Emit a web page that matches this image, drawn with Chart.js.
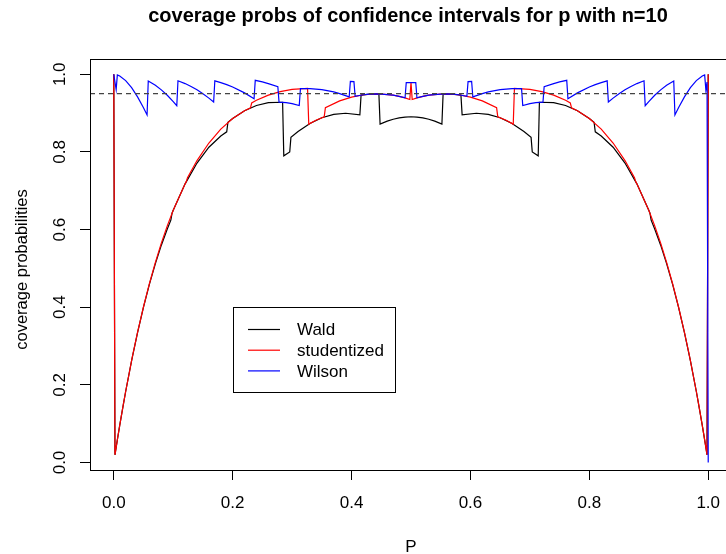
<!DOCTYPE html>
<html>
<head>
<meta charset="utf-8">
<script src="https://cdn.jsdelivr.net/npm/chart.js@4.4.1/dist/chart.umd.min.js"></script>
<style>
  html, body { margin: 0; padding: 0; overflow: hidden; background: #fff; }
  #wrap { width: 740px; height: 554px; }
</style>
</head>
<body>
<div id="wrap"><canvas id="cov" width="740" height="554"></canvas></div>
<script>
// coverage of nominal 95% intervals for a binomial proportion, n = 10

const waldP = [0, 0.002, 0.006, 0.01, 0.016, 0.02, 0.03, 0.04, 0.05, 0.06, 0.07, 0.08, 0.09, 0.096, 0.098, 0.10,
  0.12, 0.14, 0.16, 0.18, 0.19, 0.192, 0.20, 0.22, 0.24, 0.26, 0.284, 0.286, 0.296, 0.298, 0.31, 0.33, 0.35, 0.37,
  0.39, 0.414, 0.416, 0.43, 0.446, 0.448, 0.46, 0.47, 0.48, 0.49, 0.50,
  0.51, 0.52, 0.53, 0.54, 0.552, 0.554, 0.57, 0.584, 0.586, 0.61, 0.63, 0.65, 0.67, 0.69, 0.702, 0.704, 0.714,
  0.716, 0.74, 0.76, 0.78, 0.80, 0.808, 0.81, 0.82, 0.84, 0.86, 0.88, 0.90, 0.902, 0.904, 0.91, 0.92, 0.93, 0.94,
  0.95, 0.96, 0.97, 0.98, 0.984, 0.99, 0.994, 0.998, 1];
const waldCov = [1, 0.0198, 0.0583, 0.0955, 0.1486, 0.1829, 0.2624, 0.3348, 0.4002, 0.4594, 0.5124, 0.5598, 0.6017,
  0.6244, 0.6420, 0.6497, 0.7178, 0.7714, 0.8121, 0.8412, 0.8518, 0.8762, 0.8863, 0.9063, 0.9196, 0.9269, 0.9280,
  0.7900, 0.7999, 0.8375, 0.8528, 0.8735, 0.8880, 0.8967, 0.8996, 0.8955, 0.9464, 0.9489, 0.9495, 0.8716, 0.8794,
  0.8843, 0.8878, 0.8897, 0.8906,
  0.8897, 0.8878, 0.8843, 0.8794, 0.8716, 0.9495, 0.9489, 0.9464, 0.8955, 0.8996, 0.8967, 0.8880, 0.8735, 0.8528,
  0.8375, 0.7999, 0.7900, 0.9280, 0.9269, 0.9196, 0.9063, 0.8863, 0.8762, 0.8518, 0.8412, 0.8121, 0.7714, 0.7178,
  0.6497, 0.6420, 0.6244, 0.6017, 0.5598, 0.5124, 0.4594, 0.4002, 0.3348, 0.2624, 0.1829, 0.1486, 0.0955, 0.0583,
  0.0198, 1];

const studP = [0, 0.002, 0.006, 0.01, 0.016, 0.02, 0.03, 0.032, 0.04, 0.05, 0.06, 0.07, 0.08, 0.09, 0.10, 0.12,
  0.122, 0.124, 0.14, 0.16, 0.18, 0.20, 0.22, 0.23, 0.232, 0.24, 0.26, 0.28, 0.30, 0.326, 0.328, 0.34, 0.354, 0.356,
  0.38, 0.40, 0.42, 0.446, 0.47, 0.48, 0.49, 0.498, 0.50, 0.502, 0.51, 0.52, 0.53, 0.554, 0.58, 0.60, 0.62, 0.644,
  0.646, 0.66, 0.672, 0.674, 0.70, 0.72, 0.74, 0.76, 0.768, 0.77, 0.78, 0.80, 0.82, 0.84, 0.86, 0.876, 0.878, 0.88,
  0.90, 0.91, 0.92, 0.93, 0.94, 0.95, 0.96, 0.968, 0.97, 0.98, 0.984, 0.99, 0.994, 0.998, 1];
const studCov = [1, 0.0198, 0.0583, 0.0956, 0.1490, 0.1829, 0.2625, 0.2776, 0.3351, 0.4012, 0.4612, 0.5157, 0.5650,
  0.6096, 0.6497, 0.7178, 0.7237, 0.7334, 0.7778, 0.8230, 0.8589, 0.8863, 0.9063, 0.9137, 0.9264, 0.9330, 0.9463,
  0.9555, 0.9612, 0.9634, 0.8716, 0.8815, 0.8902, 0.9142, 0.9316, 0.9413, 0.9473, 0.9495, 0.9462, 0.9432, 0.9394,
  0.9350, 0.9785, 0.9350, 0.9394, 0.9432, 0.9462, 0.9495, 0.9473, 0.9413, 0.9316, 0.9142, 0.8902, 0.8815, 0.8716,
  0.9634, 0.9612, 0.9555, 0.9463, 0.9330, 0.9264, 0.9137, 0.9063, 0.8863, 0.8589, 0.8230, 0.7778, 0.7334, 0.7237,
  0.7178, 0.6497, 0.6096, 0.5650, 0.5157, 0.4612, 0.4012, 0.3351, 0.2776, 0.2625, 0.1829, 0.1490, 0.0956, 0.0583,
  0.0198, 1];

const wilsonP = [0, 0.002, 0.004, 0.006, 0.01, 0.02, 0.03, 0.04, 0.05, 0.056, 0.058, 0.07, 0.08, 0.09, 0.10, 0.106,
  0.108, 0.12, 0.13, 0.14, 0.15, 0.16, 0.168, 0.17, 0.18, 0.19, 0.20, 0.22, 0.236, 0.238, 0.25, 0.26, 0.276, 0.278,
  0.29, 0.30, 0.312, 0.314, 0.32, 0.33, 0.35, 0.37, 0.38, 0.396, 0.398, 0.404, 0.406, 0.42, 0.43, 0.446, 0.47, 0.48,
  0.49, 0.492, 0.50, 0.508,
  0.51, 0.52, 0.53, 0.554, 0.57, 0.58, 0.594, 0.596, 0.602, 0.604, 0.62, 0.63, 0.65, 0.67, 0.68, 0.686, 0.688, 0.70,
  0.71, 0.722, 0.724, 0.74, 0.75, 0.762, 0.764, 0.78, 0.80, 0.81, 0.82, 0.83, 0.832, 0.84, 0.85, 0.86, 0.87, 0.88,
  0.892, 0.894, 0.90, 0.91, 0.92, 0.93, 0.942, 0.944, 0.95, 0.96, 0.97, 0.98, 0.99, 0.994, 0.996, 0.998, 1];
const wilsonCov = [1, 0.9802, 0.9607, 0.9985, 0.9957, 0.9838, 0.9655, 0.9418, 0.9139, 0.8954, 0.9828, 0.9717,
  0.9599, 0.9459, 0.9298, 0.9191, 0.9833, 0.9761, 0.9687, 0.9600, 0.9500, 0.9386, 0.9285, 0.9832, 0.9787, 0.9734,
  0.9672, 0.9521, 0.9372, 0.9844, 0.9803, 0.9761, 0.9681, 0.9284, 0.9271, 0.9244, 0.9195, 0.9630, 0.9634, 0.9632,
  0.9605, 0.9545, 0.9503, 0.9417, 0.9818, 0.9812, 0.9432, 0.9473, 0.9489, 0.9495, 0.9462, 0.9432, 0.9394, 0.9784,
  0.9785, 0.9784,
  0.9394, 0.9432, 0.9462, 0.9495, 0.9489, 0.9473, 0.9432, 0.9812, 0.9818, 0.9417, 0.9503, 0.9545, 0.9605, 0.9632,
  0.9634, 0.9630, 0.9195, 0.9244, 0.9271, 0.9284, 0.9681, 0.9761, 0.9803, 0.9844, 0.9372, 0.9521, 0.9672, 0.9734,
  0.9787, 0.9832, 0.9285, 0.9386, 0.9500, 0.9600, 0.9687, 0.9761, 0.9833, 0.9191, 0.9298, 0.9459, 0.9599, 0.9717,
  0.9828, 0.8954, 0.9139, 0.9418, 0.9655, 0.9838, 0.9957, 0.9985, 0.9607, 0.9802, 0];

const nominalLevel = 0.95;
const xTicks = [0, 0.2, 0.4, 0.6, 0.8, 1.0];
const yTicks = [0, 0.2, 0.4, 0.6, 0.8, 1.0];
const legendLabels = ["Wald", "studentized", "Wilson"];
const seriesColors = ["#000000", "#ff0000", "#0000ff"];

const X_MIN = -0.04, X_MAX = 1.04;
const Y_MIN = -0.0193, Y_MAX = 1.0394;
const FONT = "Liberation Sans, Arial, Helvetica, sans-serif";

function toPoints(xs, ys) {
  return xs.map((x, i) => ({ x: x, y: ys[i] }));
}

/**
 * Box, titles, tick labels and the legend, drawn the way base R graphics lays them out.
 */
const frameLayer = {
  id: "frameLayer",
  afterDraw(chart) {
    const ctx = chart.ctx;
    const area = chart.chartArea;
    const xs = chart.scales.x;
    const ys = chart.scales.y;

    ctx.save();
    // plot box
    ctx.strokeStyle = "#000";
    ctx.lineWidth = 1;
    const l = Math.round(area.left) + 0.5, t = Math.round(area.top) + 0.5;
    const r = Math.round(area.right) + 0.5, b = Math.round(area.bottom) + 0.5;
    ctx.strokeRect(l, t, r - l, b - t);

    ctx.fillStyle = "#000";
    // main title
    ctx.font = "bold 20px " + FONT;
    ctx.textAlign = "center";
    ctx.textBaseline = "alphabetic";
    ctx.fillText("coverage probs of confidence intervals for p with n=10", 408, 22);

    // x tick labels
    ctx.font = "17px " + FONT;
    xTicks.forEach((v) => {
      ctx.fillText(v.toFixed(1), xs.getPixelForValue(v), 508);
    });
    // x axis title
    ctx.fillText("P", (area.left + area.right) / 2, 552);

    // y tick labels, rotated like las = 0
    yTicks.forEach((v) => {
      ctx.save();
      ctx.translate(65, ys.getPixelForValue(v));
      ctx.rotate(-Math.PI / 2);
      ctx.fillText(v.toFixed(1), 0, 0);
      ctx.restore();
    });
    // y axis title
    ctx.save();
    ctx.translate(27, (area.top + area.bottom) / 2 + 5);
    ctx.rotate(-Math.PI / 2);
    ctx.font = "16.5px " + FONT;
    ctx.fillText("coverage probabilities", 0, 0);
    ctx.restore();

    // legend
    ctx.strokeStyle = "#000";
    ctx.strokeRect(233.5, 307.5, 162, 85);
    ctx.textAlign = "left";
    ctx.textBaseline = "middle";
    ctx.font = "17px " + FONT;
    legendLabels.forEach((label, i) => {
      const y = 329.5 + i * 20.7;
      ctx.strokeStyle = seriesColors[i];
      ctx.lineWidth = 1.2;
      ctx.beginPath();
      ctx.moveTo(248, y);
      ctx.lineTo(280, y);
      ctx.stroke();
      ctx.fillStyle = "#000";
      ctx.fillText(label, 297, y + 1);
    });
    ctx.restore();
  },
};

const ctx = document.getElementById("cov").getContext("2d");
new Chart(ctx, {
  type: "line",
  data: {
    datasets: [
      {
        label: "nominal",
        data: toPoints([X_MIN, X_MAX], [nominalLevel, nominalLevel]),
        borderColor: "#444",
        borderWidth: 1.2,
        borderDash: [5, 4],
        order: 0,
      },
      { label: legendLabels[2], data: toPoints(wilsonP, wilsonCov), borderColor: seriesColors[2], order: 1 },
      { label: legendLabels[1], data: toPoints(studP, studCov), borderColor: seriesColors[1], order: 2 },
      { label: legendLabels[0], data: toPoints(waldP, waldCov), borderColor: seriesColors[0], order: 3 },
    ],
  },
  options: {
    responsive: false,
    animation: false,
    events: [],
    layout: { padding: { top: 59, right: 8, bottom: 0, left: 0 } },
    elements: {
      point: { radius: 0 },
      line: { tension: 0, borderWidth: 1.2, fill: false },
    },
    plugins: {
      legend: { display: false },
      title: { display: false },
      tooltip: { enabled: false },
    },
    scales: {
      x: {
        type: "linear",
        min: X_MIN,
        max: X_MAX,
        afterBuildTicks: (s) => { s.ticks = xTicks.map((v) => ({ value: v })); },
        afterFit: (s) => { s.height = 84; },
        ticks: { display: false },
        grid: { drawOnChartArea: false, drawTicks: true, tickLength: 10, color: "#000" },
        border: { display: false },
      },
      y: {
        type: "linear",
        min: Y_MIN,
        max: Y_MAX,
        afterBuildTicks: (s) => { s.ticks = yTicks.map((v) => ({ value: v })); },
        afterFit: (s) => { s.width = 90; },
        ticks: { display: false },
        grid: { drawOnChartArea: false, drawTicks: true, tickLength: 10, color: "#000" },
        border: { display: false },
      },
    },
  },
  plugins: [frameLayer],
});
</script>
</body>
</html>
